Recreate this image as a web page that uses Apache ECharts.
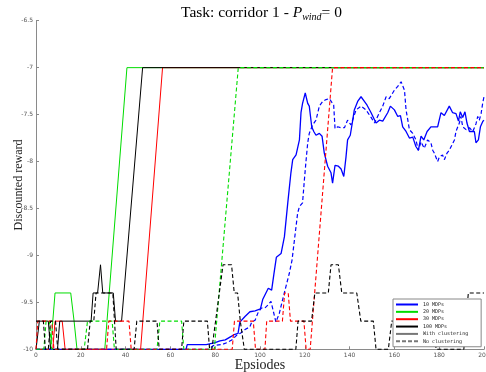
<!DOCTYPE html>
<html>
<head>
<meta charset="utf-8">
<script src="https://cdn.jsdelivr.net/npm/echarts@6/dist/echarts.min.js"></script>
<style>
  html, body { margin: 0; padding: 0; background: #fff; }
  #chart { width: 486px; height: 372px; }
</style>
</head>
<body>
<div id="chart"></div>
<script>
// Discounted reward per episode, [episode, reward] vertices of each learning curve.
const mdp10Clustered = [[0,-10],[67,-10],[67.5,-9.95],[76,-9.95],[80,-9.93],[82.1,-9.91],[84.5,-9.9],[86.6,-9.87],[88.8,-9.84],[90.2,-9.83],[91,-9.71],[93.3,-9.65],[95.5,-9.6],[97.8,-9.59],[100.2,-9.57],[101.2,-9.47],[103.7,-9.35],[105.2,-9.37],[106.2,-9.2],[107.3,-9.02],[109.4,-8.98],[110.9,-8.8],[112.4,-8.44],[113.8,-8.12],[114.6,-7.98],[116.1,-7.93],[117.6,-7.77],[118.3,-7.48],[119,-7.38],[120.2,-7.27],[121.3,-7.38],[122,-7.41],[123.1,-7.63],[124,-7.68],[125,-7.72],[126.5,-7.7],[127.7,-7.73],[128.7,-7.91],[130.2,-8.05],[131.7,-8.12],[132.4,-8.23],[133.5,-8.04],[135,-8.05],[136.2,-8.08],[137.4,-8.16],[138.4,-7.95],[139.1,-7.77],[140.3,-7.72],[141.4,-7.56],[142.1,-7.45],[143.6,-7.36],[145.1,-7.31],[146.6,-7.36],[147.8,-7.4],[149.6,-7.48],[151.8,-7.59],[153.3,-7.56],[154.8,-7.57],[155.5,-7.59],[157,-7.48],[158.2,-7.41],[160,-7.45],[161.5,-7.52],[162.7,-7.51],[163.7,-7.63],[165.2,-7.68],[166.7,-7.75],[168.2,-7.74],[169.6,-7.84],[170.7,-7.88],[171.9,-7.73],[173.1,-7.77],[174.6,-7.68],[176.3,-7.63],[179.3,-7.63],[180.8,-7.48],[182.3,-7.51],[184.5,-7.41],[186,-7.48],[187.5,-7.49],[188.6,-7.57],[189.4,-7.47],[190.5,-7.53],[191.5,-7.47],[192.4,-7.59],[193.5,-7.68],[195.7,-7.68],[196.4,-7.8],[197.5,-7.77],[198.4,-7.63],[199.5,-7.57],[200,-7.56]];
const mdp20Clustered = [[0,-10],[6.5,-10],[8.5,-9.4],[15.5,-9.4],[17,-9.7],[18.3,-10],[30.7,-10],[40.6,-7],[200,-7]];
const mdp30Clustered = [[0,-10],[7.5,-10],[8.5,-9.7],[11.7,-9.7],[13,-10],[46.7,-10],[56.5,-7],[200,-7]];
const mdp100Clustered = [[0,-10],[1.5,-9.7],[5.5,-9.7],[6.5,-10],[9.6,-10],[10.6,-9.7],[24.6,-9.7],[25.5,-9.4],[27.5,-9.4],[28.8,-9.1],[29.8,-9.4],[34.5,-9.4],[35.5,-9.7],[38.2,-9.7],[47.6,-7],[200,-7]];

const mdp10Plain = [[0,-10],[77,-10],[79.2,-9.96],[82.9,-9.95],[85.1,-9.93],[87.4,-9.9],[89.6,-9.85],[91.8,-9.82],[93.3,-9.79],[95.5,-9.76],[96.3,-9.71],[97.8,-9.69],[99.3,-9.6],[100.7,-9.56],[102.2,-9.56],[103.5,-9.53],[104.9,-9.49],[106,-9.6],[107.1,-9.71],[107.9,-9.71],[108.6,-9.62],[110.1,-9.47],[111.6,-9.33],[113.1,-9.19],[114.3,-9.05],[115.4,-8.83],[116.8,-8.55],[117.6,-8.48],[119,-8.44],[119.8,-8.2],[120.6,-7.98],[121.3,-7.8],[122,-7.7],[123.5,-7.61],[125,-7.56],[126.5,-7.41],[128,-7.36],[129.5,-7.34],[131,-7.33],[131.7,-7.34],[132.9,-7.4],[133.5,-7.65],[134.7,-7.63],[136.2,-7.64],[137.7,-7.64],[139.1,-7.56],[140.6,-7.61],[142.9,-7.45],[145.1,-7.41],[147.3,-7.45],[149.6,-7.53],[151.1,-7.59],[153.3,-7.48],[154.8,-7.41],[156.3,-7.31],[157.7,-7.33],[160,-7.24],[161.5,-7.2],[163,-7.15],[163.7,-7.14],[164.5,-7.24],[165.2,-7.45],[166,-7.56],[166.7,-7.66],[168.2,-7.7],[168.9,-7.68],[169.6,-7.77],[170.7,-7.88],[171.9,-7.79],[173.3,-7.86],[174.8,-7.77],[176.3,-7.8],[177.1,-7.88],[177.8,-7.91],[179.3,-8.0],[180.1,-7.95],[180.8,-7.96],[181.5,-7.93],[182.3,-7.98],[183.5,-7.91],[184.5,-7.88],[186.8,-7.77],[187.5,-7.68],[188.3,-7.63],[189,-7.59],[189.7,-7.52],[190.5,-7.63],[192,-7.66],[193.5,-7.64],[195,-7.68],[196.4,-7.6],[197.2,-7.52],[197.9,-7.56],[198.7,-7.49],[199.4,-7.38],[200,-7.31]];
const mdp20Plain = [[0,-10],[3.5,-10],[4.5,-9.7],[6,-9.7],[7,-10],[21.5,-10],[23,-9.7],[34,-9.7],[35,-10],[54,-10],[55.3,-9.7],[65,-9.7],[66,-10],[79.6,-10],[90.3,-7],[200,-7]];
const mdp30Plain = [[0,-10],[0.8,-9.7],[7,-9.7],[8,-10],[31.5,-10],[32.5,-9.7],[41.5,-9.7],[42.5,-10],[87.6,-10],[88.6,-9.7],[97,-9.7],[98,-10],[102.2,-10],[103,-9.7],[110,-9.7],[111,-9.4],[112.6,-9.4],[113.6,-9.7],[119.6,-9.7],[120.6,-10],[122.4,-10],[132.4,-7],[200,-7]];
const mdp100Plain = [[0,-9.7],[3.3,-9.7],[4.2,-10],[5.5,-10],[6.5,-9.7],[8.7,-9.7],[9.7,-10],[23,-10],[24.2,-9.7],[25.8,-9.7],[26.8,-9.4],[34.3,-9.4],[35.8,-10],[43.8,-10],[45,-9.7],[54,-9.7],[55,-10],[65,-10],[66,-9.7],[76.5,-9.7],[77.5,-10],[78.5,-10],[83.5,-9.1],[87.3,-9.1],[88.5,-9.4],[90,-9.4],[91.2,-9.7],[93,-10],[116,-10],[117,-9.7],[123,-9.7],[124.5,-9.4],[130.5,-9.4],[131.7,-9.1],[135,-9.1],[136.5,-9.4],[143.2,-9.4],[145,-9.7],[150.6,-9.7],[151.8,-10],[157.3,-10],[158.8,-9.7],[177.5,-9.7],[178.6,-10],[191,-10],[193,-9.4],[200,-9.4]];

const groupNames = ['10 MDPs', '20 MDPs', '30 MDPs', '100 MDPs'];
const groupColors = ['#0000ff', '#00dd00', '#ff0000', '#000000'];
const clusteredRuns = [mdp10Clustered, mdp20Clustered, mdp30Clustered, mdp100Clustered];
const plainRuns = [mdp10Plain, mdp20Plain, mdp30Plain, mdp100Plain];
const styleNames = ['With clustering', 'No clustering'];
const yTicks = { min: -10, max: -6.5, step: 0.5 };
const xTicks = { min: 0, max: 200, step: 20 };

const dash = [4, 2.5];
const series = [];
clusteredRuns.forEach((run, i) => {
  series.push({
    name: groupNames[i], type: 'line', data: run, symbol: 'none', clip: false,
    lineStyle: { color: groupColors[i], width: i === 0 ? 1.3 : 1, type: 'solid' },
    itemStyle: { color: groupColors[i] }
  });
});
plainRuns.forEach((run, i) => {
  series.push({
    name: groupNames[i] + ' (no clustering)', type: 'line', data: run, symbol: 'none', clip: false,
    lineStyle: { color: groupColors[i], width: i === 0 ? 1.2 : 1.1, type: dash },
    itemStyle: { color: groupColors[i] }
  });
});
// legend-only entries for the two line styles
series.push({ name: styleNames[0], type: 'line', data: [], symbol: 'none',
  lineStyle: { color: '#777', width: 0.8, type: 'solid' }, itemStyle: { color: '#777' } });
series.push({ name: styleNames[1], type: 'line', data: [], symbol: 'none',
  lineStyle: { color: '#777', width: 0.8, type: [4, 2] }, itemStyle: { color: '#777' } });

const chart = echarts.init(document.getElementById('chart'), null, { renderer: 'canvas' });
const axisGray = '#8a8a8a';
chart.setOption({
  animation: false,
  backgroundColor: '#fff',
  grid: { left: 36, right: 2, top: 20.7, bottom: 22.7, containLabel: false, outerBoundsMode: 'none' },
  xAxis: {
    type: 'value', min: xTicks.min, max: xTicks.max, interval: xTicks.step,
    name: 'Epsiodes', nameLocation: 'middle', nameGap: 9, nameMoveOverlap: false,
    nameTextStyle: { fontFamily: 'Liberation Serif', fontSize: 14, color: '#222' },
    axisLine: { lineStyle: { color: axisGray, width: 1 } },
    axisTick: { inside: true, length: 3, lineStyle: { color: axisGray } },
    axisLabel: { fontFamily: 'DejaVu Sans', fontSize: 6, color: '#555', margin: 3 },
    splitLine: { show: false }
  },
  yAxis: {
    type: 'value', min: yTicks.min, max: yTicks.max, interval: yTicks.step,
    name: 'Discounted reward', nameLocation: 'middle', nameGap: 11, nameMoveOverlap: false,
    nameTextStyle: { fontFamily: 'Liberation Serif', fontSize: 12, color: '#222' },
    axisLine: { show: true, lineStyle: { color: axisGray, width: 1 } },
    axisTick: { show: true, inside: true, length: 3, lineStyle: { color: axisGray } },
    axisLabel: { fontFamily: 'DejaVu Sans', fontSize: 6, color: '#555', margin: 3 },
    splitLine: { show: false }
  },
  legend: {
    orient: 'vertical', left: 393, top: 299,
    data: groupNames.concat(styleNames),
    padding: [3, 13, 3, 2], itemWidth: 22, itemHeight: 5, itemGap: 2.35,
    borderColor: '#888', borderWidth: 1, backgroundColor: '#fff',
    itemStyle: { opacity: 0 },
    textStyle: { fontFamily: 'DejaVu Sans Mono', fontSize: 5, color: '#222' },
    selectedMode: false
  },
  graphic: [{
    type: 'text', left: 181, top: 5, z: 10,
    style: {
      text: '{a|Task: corridor 1 - }{i|P}{s|wind}{a|= 0}',
      rich: {
        a: { fontFamily: 'Liberation Serif', fontSize: 15.5, color: '#222', lineHeight: 19 },
        i: { fontFamily: 'Liberation Serif', fontStyle: 'italic', fontSize: 15.5, color: '#222', lineHeight: 19 },
        s: { fontFamily: 'Liberation Serif', fontStyle: 'italic', fontSize: 10, color: '#222', lineHeight: 10, verticalAlign: 'bottom' }
      }
    }
  }],
  series: series
});
</script>
</body>
</html>
